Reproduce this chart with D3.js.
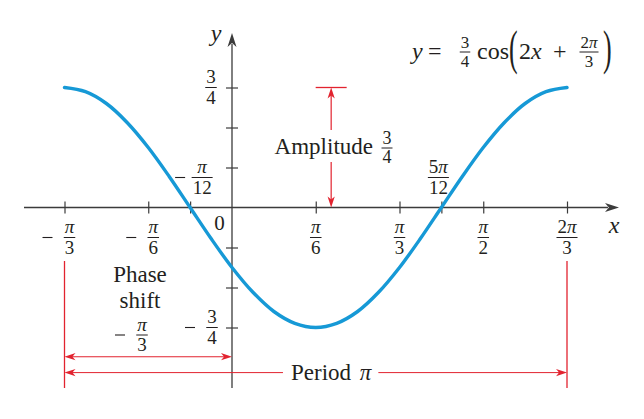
<!DOCTYPE html>
<html>
<head>
<meta charset="utf-8">
<script src="https://cdn.jsdelivr.net/npm/d3@7"></script>
<style>
  body { margin: 0; background: #fff; }
  svg { display: block; }
  text { font-family: "Liberation Serif", "Times New Roman", serif; fill: #231f20; }
</style>
</head>
<body>
<svg id="chart" width="644" height="419"></svg>
<script>
const PI = Math.PI;

// curve, x in steps of pi/24
const curveK = [-8, -7, -6, -5, -4, -3, -2, -1, 0, 1, 2, 3, 4, 5, 6, 7, 8, 9, 10, 11, 12, 13, 14, 15, 16];
const curveY = [0.75, 0.724, 0.65, 0.53, 0.375, 0.194, 0, -0.194, -0.375, -0.53, -0.65, -0.724, -0.75,
                -0.724, -0.65, -0.53, -0.375, -0.194, 0, 0.194, 0.375, 0.53, 0.65, 0.724, 0.75];

// axis ticks
const xTickVals = [-PI / 3, -PI / 6, -PI / 12, PI / 6, PI / 3, 5 * PI / 12, PI / 2, 2 * PI / 3];
const yTickVals = [-0.75, -0.5, -0.25, 0.25, 0.5, 0.75];

// x tick labels (fractions)
const xLabelVals = [-PI / 3, -PI / 6, PI / 6, PI / 3, PI / 2, 2 * PI / 3];
const xLabelNum = ["π", "π", "π", "π", "π", "2π"];
const xLabelDen = ["3", "6", "6", "3", "2", "3"];
const xLabelNeg = [true, true, false, false, false, false];

// zero crossings labels
const zeroVals = [-PI / 12, 5 * PI / 12];
const zeroNum = ["π", "5π"];
const zeroDen = ["12", "12"];
const zeroNeg = [true, false];

// annotation values
const amplitude = 0.75;
const phaseShift = -PI / 3;
const period = PI;
const ampX = 0.62;

const svg = d3.select("#chart");
const ink = "#231f20";
const axisCol = "#3b3b3b";
const red = "#e2232f";
const blue = "#1699d6";

const x = d3.scaleLinear().domain([-PI / 3, 2 * PI / 3]).range([64.5, 567]);
const y = d3.scaleLinear().domain([-0.75, 0.75]).range([327.5, 87.5]);
const x0 = x(0), y0 = y(0);

// arrow head, tip at (tx,ty), pointing along angle (deg)
function arrowHead(tx, ty, angle, color, len, half) {
  svg.append("path")
    .attr("d", `M0,0 L${-len},${-half} L${-len * 0.72},0 L${-len},${half} Z`)
    .attr("transform", `translate(${tx},${ty}) rotate(${angle})`)
    .attr("fill", color);
}

// text with italic pi / x
function mathText(g, str, px, py, size, anchor) {
  const t = g.append("text").attr("x", px).attr("y", py)
    .attr("text-anchor", anchor || "middle").style("font-size", size + "px");
  for (const ch of str) {
    const s = t.append("tspan").text(ch);
    if (ch === "π" || ch === "x" || ch === "y") s.style("font-style", "italic");
  }
  return t;
}

function frac(cx, bar, num, den, size, neg) {
  const g = svg.append("g");
  const n = mathText(g, num, cx, bar - 4.5, size);
  const d = mathText(g, den, cx, bar + size * 0.86, size);
  const w = Math.max(n.node().getComputedTextLength(), d.node().getComputedTextLength()) + 2;
  g.append("line")
    .attr("x1", cx - w / 2).attr("x2", cx + w / 2)
    .attr("y1", bar).attr("y2", bar)
    .attr("stroke", ink).attr("stroke-width", 1);
  if (neg) {
    g.append("line")
      .attr("x1", cx - 27).attr("x2", cx - 17)
      .attr("y1", bar).attr("y2", bar)
      .attr("stroke", ink).attr("stroke-width", 1.1);
  }
}

// Axis lines
svg.append("line").attr("x1", 24).attr("x2", 608).attr("y1", y0).attr("y2", y0)
  .attr("stroke", axisCol).attr("stroke-width", 1.3);
arrowHead(619, y0, 0, axisCol, 14, 4.5);
svg.append("line").attr("x1", x0).attr("x2", x0).attr("y1", 388).attr("y2", 44)
  .attr("stroke", axisCol).attr("stroke-width", 1.3);
arrowHead(x0, 33, -90, axisCol, 14, 4.5);

// ticks through d3 axes (crossing the axis lines)
const gx = svg.append("g")
  .attr("transform", `translate(0,${y0 - 6})`)
  .call(d3.axisBottom(x).tickValues(xTickVals).tickSize(12).tickFormat(""));
gx.select(".domain").remove();
gx.selectAll("line").attr("stroke", axisCol).attr("stroke-width", 1.2);

const gy = svg.append("g")
  .attr("transform", `translate(${x0 + 6},0)`)
  .call(d3.axisLeft(y).tickValues(yTickVals).tickSize(12).tickFormat(""));
gy.select(".domain").remove();
gy.selectAll("line").attr("stroke", axisCol).attr("stroke-width", 1.2);

// axis names
mathText(svg, "x", 614, 233, 24);
mathText(svg, "y", 216, 41, 24);
svg.append("text").attr("x", 219.5).attr("y", 230).attr("text-anchor", "middle")
  .style("font-size", "21px").text("0");

// x tick labels
xLabelVals.forEach((v, i) => {
  const cx = x(v) + (xLabelNeg[i] ? 5 : 0);
  frac(cx, 237.5, xLabelNum[i], xLabelDen[i], 19, xLabelNeg[i]);
});

// zero crossing labels
zeroVals.forEach((v, i) => {
  const cx = x(v) + (zeroNeg[i] ? 12 : -3);
  frac(cx, 177.5, zeroNum[i], zeroDen[i], 19, zeroNeg[i]);
});

// y tick labels for +-3/4
frac(x0 - 21, y(0.75), "3", "4", 19, false);
frac(x0 - 20, y(-0.75), "3", "4", 19, true);

// the curve
const pts = curveK.map((k, i) => [k * PI / 24, curveY[i]]);
svg.append("path")
  .datum(pts)
  .attr("d", d3.line().x(d => x(d[0])).y(d => y(d[1])).curve(d3.curveCatmullRom))
  .attr("fill", "none")
  .attr("stroke", blue)
  .attr("stroke-width", 3.4)
  .attr("stroke-linecap", "round");

// Amplitude annotation
const ax = x(ampX);
svg.append("line").attr("x1", ax - 15.5).attr("x2", ax + 15.5)
  .attr("y1", y(amplitude)).attr("y2", y(amplitude))
  .attr("stroke", red).attr("stroke-width", 1.3);
svg.append("line").attr("x1", ax).attr("x2", ax).attr("y1", y(amplitude) + 4).attr("y2", 130)
  .attr("stroke", red).attr("stroke-width", 1.2);
svg.append("line").attr("x1", ax).attr("x2", ax).attr("y1", 162).attr("y2", y0 - 4)
  .attr("stroke", red).attr("stroke-width", 1.2);
arrowHead(ax, y(amplitude), -90, red, 11, 3.6);
arrowHead(ax, y0, 90, red, 11, 3.6);
svg.append("text").attr("x", 373).attr("y", 154).attr("text-anchor", "end")
  .style("font-size", "23px").text("Amplitude");
frac(387, 148, "3", "4", 18, false);

// Phase shift annotation
const phaseY = 356.7;
svg.append("line").attr("x1", x(phaseShift) + 4).attr("x2", x(0) - 4)
  .attr("y1", phaseY).attr("y2", phaseY)
  .attr("stroke", red).attr("stroke-width", 1.1);
arrowHead(x(phaseShift), phaseY, 180, red, 11, 3.6);
arrowHead(x(0), phaseY, 0, red, 11, 3.6);
svg.append("text").attr("x", 140).attr("y", 282).attr("text-anchor", "middle")
  .style("font-size", "23px").text("Phase");
svg.append("text").attr("x", 140).attr("y", 308).attr("text-anchor", "middle")
  .style("font-size", "23px").text("shift");
frac(142, 335, "π", "3", 19, true);

// Period annotation
const perY = 372.6;
const perL = x(phaseShift), perR = x(phaseShift + period);
[perL, perR].forEach(px => {
  svg.append("line").attr("x1", px).attr("x2", px).attr("y1", 261).attr("y2", 388)
    .attr("stroke", red).attr("stroke-width", 1.3);
});
const pt = mathText(svg, "Period π", ax, 380, 23);
pt.selectAll("tspan").filter(function () { return this.textContent === "π"; })
  .attr("dx", 3);
const pw = pt.node().getComputedTextLength() + 3;
svg.append("line").attr("x1", perL + 4).attr("x2", ax - pw / 2 - 8)
  .attr("y1", perY).attr("y2", perY).attr("stroke", red).attr("stroke-width", 1);
svg.append("line").attr("x1", ax + pw / 2 + 7).attr("x2", perR - 4)
  .attr("y1", perY).attr("y2", perY).attr("stroke", red).attr("stroke-width", 1);
arrowHead(perL, perY, 180, red, 11, 3.6);
arrowHead(perR, perY, 0, red, 11, 3.6);

// Equation
mathText(svg, "y", 412, 59, 24, "start");
svg.append("text").attr("x", 428).attr("y", 59).style("font-size", "24px").text("=");
frac(465, 52, "3", "4", 17, false);
svg.append("text").attr("x", 477).attr("y", 59).style("font-size", "24px").text("cos");
svg.append("text").attr("transform", "translate(509,64.3) scale(1,1.9)")
  .style("font-size", "26px").text("(");
mathText(svg, "2x", 519, 59, 24, "start");
svg.append("text").attr("x", 553).attr("y", 59).style("font-size", "24px").text("+");
frac(589, 52, "2π", "3", 17, false);
svg.append("text").attr("transform", "translate(603,64.3) scale(1,1.9)")
  .style("font-size", "26px").text(")");
</script>
</body>
</html>
